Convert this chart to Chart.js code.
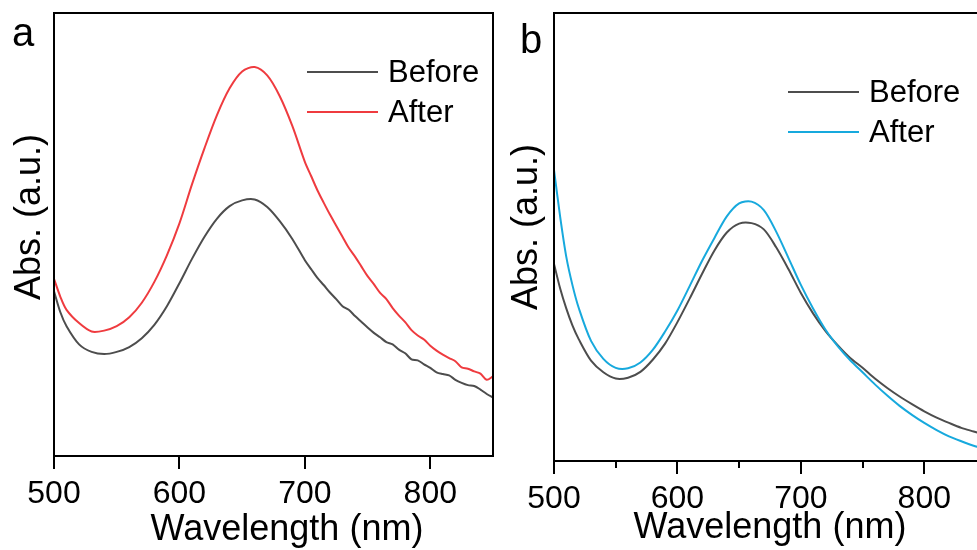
<!DOCTYPE html>
<html lang="en">
<head>
<meta charset="UTF-8">
<title>Absorbance before / after</title>
<script src="https://cdn.jsdelivr.net/npm/chart.js"></script>
<style>
    html, body { margin: 0; padding: 0; background: #fff; overflow: hidden; }
    body { width: 977px; height: 550px; position: relative; }
    .panel { position: absolute; top: 0; width: 500px; height: 550px; }
    #panelA { left: 0; }
    #panelB { left: 500px; }
</style>
</head>
<body>
<div class="panel" id="panelA"><canvas id="chartA"></canvas></div>
<div class="panel" id="panelB"><canvas id="chartB"></canvas></div>

<script>
// ---- data (absorbance in arbitrary units, 0 = axis bottom, 1 = frame top) ----
const seriesLabels = ['Before', 'After'];
const majorTicks = [500, 600, 700, 800];
const minorTicksB = [550, 650, 750];

// panel a
const waveA = [500, 505, 510, 520, 530, 540, 550, 560, 570, 580, 590, 600, 610, 620, 630, 640, 650, 660, 670, 680, 690,
    700, 705, 710, 715, 720, 725, 730, 735, 740, 745, 750, 755, 760, 765, 770, 775, 780, 785, 790, 795,
    800, 805, 810, 815, 820, 825, 830, 835, 840, 845, 850];
const beforeA = [0.372, 0.325, 0.293, 0.252, 0.235, 0.230, 0.235, 0.246, 0.266, 0.296, 0.338, 0.390, 0.445, 0.495, 0.536, 0.564, 0.577, 0.579, 0.562, 0.530, 0.490,
    0.442, 0.422, 0.402, 0.386, 0.369, 0.354, 0.338, 0.330, 0.316, 0.303, 0.290, 0.278, 0.268, 0.257, 0.252, 0.240, 0.232, 0.218, 0.216, 0.207,
    0.199, 0.189, 0.185, 0.182, 0.172, 0.165, 0.160, 0.158, 0.150, 0.140, 0.132];
const afterA = [0.400, 0.360, 0.330, 0.300, 0.281, 0.283, 0.293, 0.313, 0.346, 0.393, 0.453, 0.525, 0.613, 0.695, 0.770, 0.830, 0.868, 0.878, 0.859, 0.812, 0.745,
    0.664, 0.632, 0.600, 0.572, 0.545, 0.520, 0.495, 0.470, 0.450, 0.428, 0.406, 0.388, 0.368, 0.354, 0.334, 0.317, 0.302, 0.284, 0.272, 0.263,
    0.249, 0.238, 0.229, 0.221, 0.214, 0.200, 0.197, 0.191, 0.186, 0.172, 0.180];

// panel b
const waveB = [500, 505, 510, 515, 520, 530, 540, 550, 560, 570, 580, 590, 600, 610, 620, 630, 640, 650, 660, 670, 680,
    690, 700, 710, 720, 730, 740, 750, 760, 770, 780, 790, 800, 810, 820, 830, 840, 850];
const beforeB = [0.440, 0.385, 0.340, 0.302, 0.272, 0.224, 0.198, 0.184, 0.186, 0.199, 0.226, 0.262, 0.310, 0.363, 0.418, 0.470, 0.510, 0.530, 0.531, 0.517, 0.477,
    0.428, 0.375, 0.329, 0.290, 0.258, 0.230, 0.208, 0.184, 0.163, 0.144, 0.127, 0.111, 0.097, 0.085, 0.074, 0.066, 0.058];
const afterB = [0.650, 0.545, 0.455, 0.392, 0.342, 0.268, 0.228, 0.208, 0.207, 0.220, 0.248, 0.289, 0.336, 0.391, 0.447, 0.498, 0.546, 0.575, 0.579, 0.560, 0.512,
    0.453, 0.393, 0.340, 0.293, 0.256, 0.225, 0.198, 0.171, 0.146, 0.123, 0.103, 0.085, 0.069, 0.055, 0.044, 0.034, 0.026];

const FONT = '"Liberation Sans", Arial, sans-serif';
const GRAY = '#4d4d4d';

function toPoints(xs, ys) {
    return xs.map((x, i) => ({ x: x, y: ys[i] }));
}

// frame, minor ticks, axis titles, panel letter and legend
const decorPlugin = {
    id: 'decor',
    afterDraw(chart, args, o) {
        const ctx = chart.ctx;
        const a = chart.chartArea;
        const xs = chart.scales.x;
        ctx.save();
        ctx.strokeStyle = '#000';
        ctx.lineWidth = 2;
        ctx.strokeRect(a.left, a.top, a.right - a.left, a.bottom - a.top);

        (o.minor || []).forEach(v => {
            const px = Math.round(xs.getPixelForValue(v));
            ctx.beginPath();
            ctx.moveTo(px, a.bottom);
            ctx.lineTo(px, a.bottom + 7);
            ctx.stroke();
        });

        ctx.fillStyle = '#000';
        ctx.textAlign = 'center';
        ctx.textBaseline = 'middle';
        ctx.font = '36px ' + FONT;
        ctx.fillText('Wavelength (nm)', o.xTitle[0], o.xTitle[1]);

        ctx.save();
        ctx.translate(o.yTitle[0], o.yTitle[1]);
        ctx.rotate(-Math.PI / 2);
        ctx.fillText('Abs. (a.u.)', 0, 0);
        ctx.restore();

        ctx.textAlign = 'left';
        ctx.textBaseline = 'alphabetic';
        ctx.font = '40px ' + FONT;
        ctx.fillText(o.letter, o.letterPos[0], o.letterPos[1]);

        // legend
        ctx.font = '31px ' + FONT;
        ctx.textBaseline = 'middle';
        seriesLabels.forEach((lab, i) => {
            const ds = chart.data.datasets.find(d => d.label === lab);
            const y = o.legend.y + i * 40;
            ctx.strokeStyle = ds.borderColor;
            ctx.lineWidth = 2;
            ctx.beginPath();
            ctx.moveTo(o.legend.x, y);
            ctx.lineTo(o.legend.x + 71, y);
            ctx.stroke();
            ctx.fillStyle = '#000';
            ctx.fillText(lab, o.legend.x + 81, y + 1);
        });
        ctx.restore();
    }
};

function makeChart(id, wave, before, after, afterColor, p) {
    return new Chart(document.getElementById(id), {
        type: 'line',
        data: {
            datasets: [
                { label: 'Before', data: toPoints(wave, before), borderColor: GRAY, order: 1 },
                { label: 'After', data: toPoints(wave, after), borderColor: afterColor, order: 0 }
            ]
        },
        options: {
            responsive: true,
            maintainAspectRatio: false,
            animation: false,
            devicePixelRatio: 1,
            layout: { padding: { top: 13, right: p.right, left: 0, bottom: 0 } },
            elements: {
                point: { radius: 0 },
                line: { borderWidth: 2, tension: 0.3 }
            },
            plugins: {
                legend: { display: false },
                tooltip: { enabled: false },
                decor: p.decor
            },
            scales: {
                x: {
                    type: 'linear',
                    min: 500,
                    max: 850,
                    afterBuildTicks: s => { s.ticks = majorTicks.map(v => ({ value: v })); },
                    afterFit: s => { s.height = p.bottom; },
                    grid: { display: true, drawOnChartArea: false, drawTicks: true, tickLength: 13, color: '#000', lineWidth: 2 },
                    border: { display: false },
                    ticks: { color: '#000', font: { family: FONT, size: 32 }, padding: 6, maxRotation: 0, autoSkip: false }
                },
                y: {
                    min: 0,
                    max: 1,
                    afterFit: s => { s.width = 54; },
                    grid: { display: false },
                    border: { display: false },
                    ticks: { display: false }
                }
            }
        },
        plugins: [decorPlugin]
    });
}

makeChart('chartA', waveA, beforeA, afterA, '#ef3b3f', {
    right: 7,
    bottom: 94,
    decor: {
        xTitle: [287, 530], yTitle: [30, 217], letter: 'a', letterPos: [12, 46],
        legend: { x: 307, y: 72 }
    }
});

makeChart('chartB', waveB, beforeB, afterB, '#17a9dd', {
    right: 14,
    bottom: 89,
    decor: {
        minor: minorTicksB,
        xTitle: [270, 528], yTitle: [27, 227], letter: 'b', letterPos: [20, 53],
        legend: { x: 288, y: 92 }
    }
});
</script>
</body>
</html>
